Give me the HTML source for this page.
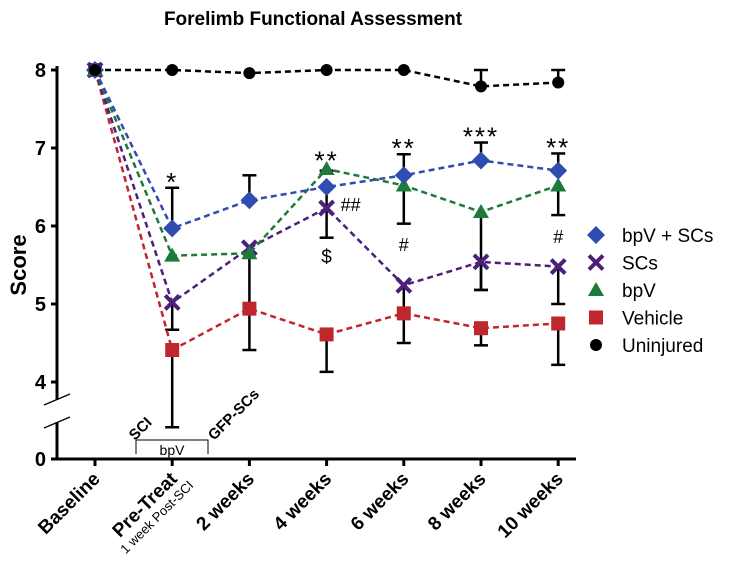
<!DOCTYPE html>
<html><head><meta charset="utf-8"><style>
body{margin:0;background:#fff;}
svg text{font-family:"Liberation Sans",Arial,sans-serif;}
</style></head><body>
<svg id="chart" width="729" height="564" viewBox="0 0 729 564">
<text x="313" y="25" text-anchor="middle" font-size="19" font-weight="bold">Forelimb Functional Assessment</text>
<text transform="translate(26,265) rotate(-90)" text-anchor="middle" font-size="22" font-weight="bold">Score</text>
<g id="axes"></g>
<g id="series"></g>
<g id="annot"></g>
<g id="legend"></g>
</svg>
<script>
const categories=["Baseline","Pre-Treat","2 weeks","4 weeks","6 weeks","8 weeks","10 weeks"];
const seriesNames=["bpV + SCs","SCs","bpV","Vehicle","Uninjured"];
const bpvSCs=[8,5.97,6.33,6.5,6.65,6.84,6.71];
const SCs=[8,5.02,5.72,6.23,5.24,5.54,5.48];
const bpV=[8,5.62,5.65,6.73,6.52,6.18,6.52];
const vehicle=[8,4.41,4.94,4.61,4.88,4.69,4.75];
const uninjured=[8,8,7.96,8,8,7.79,7.84];
const errSegTime=[1,1,1,2,2,3,3,3,4,4,4,5,5,5,5,6,6,6,6,5,6];
const errSegFrom=[5.97,5.02,4.41,6.33,5.65,6.73,6.5,4.61,6.65,6.52,5.24,6.84,6.18,5.54,4.69,6.71,6.52,5.48,4.75,7.79,7.84];
const errSegTo=[6.49,4.67,3.42,6.65,4.41,6.71,5.85,4.13,6.92,6.03,4.5,7.07,5.18,5.18,4.47,6.93,6.14,5.0,4.22,8.0,8.0];
const stars=["","*","","**","**","***","**"];
const starTop=[null,6.49,null,6.76,6.92,7.07,6.93];
const yTicks=[0,4,5,6,7,8];

const NS="http://www.w3.org/2000/svg";
const X=i=>95+i*77.2;
const Y=v=>v===0?459:70+(8-v)*78;
function el(tag,attrs,parent){const e=document.createElementNS(NS,tag);for(const k in attrs)e.setAttribute(k,attrs[k]);parent.appendChild(e);return e;}
const axes=document.getElementById('axes'),ser=document.getElementById('series'),ann=document.getElementById('annot'),leg=document.getElementById('legend');
let a=el('path',{d:"M57,66 V400 M57,422 V459 H576",stroke:"#000","stroke-width":3,fill:"none"},axes);


el('path',{d:"M44,405 L70,394 M44,428 L70,417",stroke:"#000","stroke-width":1.3},axes);
yTicks.forEach(t=>{
 const l=el('line',{x1:51,x2:57,y1:Y(t),y2:Y(t),stroke:"#000","stroke-width":3},axes);
 
 
 const tx=el('text',{x:46,y:Y(t)+7,"text-anchor":"end","font-size":20,"font-weight":"bold"},axes);
 tx.textContent=t;
 
 
});
categories.forEach((c,i)=>{
 const l=el('line',{x1:X(i),x2:X(i),y1:459,y2:466,stroke:"#000","stroke-width":3},axes);
 
 
 const tx=el('text',{transform:`translate(${X(i)+6},${480}) rotate(-45)`,"text-anchor":"end","font-size":19,"font-weight":"bold"},axes);
 tx.textContent=c;
 
 
});
let sub=el('text',{transform:`translate(${X(1)+22},${486}) rotate(-45)`,"text-anchor":"end","font-size":13},axes);
sub.textContent="1 week Post-SCI";


el('path',{d:"M136,454 V440 H208 V454",stroke:"#000","stroke-width":1,fill:"none"},axes);
let t1=el('text',{x:172,y:455,"text-anchor":"middle","font-size":14},axes);t1.textContent="bpV";


let t2=el('text',{transform:"translate(135,441) rotate(-45)","font-size":15,"font-weight":"bold"},axes);t2.textContent="SCI";


let t3=el('text',{transform:"translate(214,441) rotate(-45)","font-size":15,"font-weight":"bold"},axes);t3.textContent="GFP-SCs";



errSegTime.forEach((i,s)=>{
 const g=el('g',{},ser);
 
 
 el('line',{x1:X(i),x2:X(i),y1:Y(errSegFrom[s]),y2:Y(errSegTo[s]),stroke:"#000","stroke-width":2.5},g);
 el('line',{x1:X(i)-7,x2:X(i)+7,y1:Y(errSegTo[s]),y2:Y(errSegTo[s]),stroke:"#000","stroke-width":2.5},g);
});
const colors=["#2f4db0","#4b1f7a","#1d7a3a","#c0272d","#000"];
const data=[bpvSCs,SCs,bpV,vehicle,uninjured];
const names=["bpv-scs","scs","bpv","vehicle","uninjured"];
function marker(k,x,y,g){
 const c=colors[k];
 if(k===0)el('path',{d:`M${x},${y-9} L${x+9},${y} L${x},${y+9} L${x-9},${y}Z`,fill:c},g);
 else if(k===1)el('path',{d:`M${x-7},${y-7} L${x+7},${y+7} M${x+7},${y-7} L${x-7},${y+7}`,stroke:c,"stroke-width":4},g);
 else if(k===2)el('path',{d:`M${x},${y-8} L${x+8},${y+6} L${x-8},${y+6}Z`,fill:c},g);
 else if(k===3)el('rect',{x:x-7,y:y-7,width:14,height:14,fill:c},g);
 else el('circle',{cx:x,cy:y,r:6,fill:c},g);
}
[3,1,2,0,4].forEach(k=>{
 const d=data[k];
 const ln=el('polyline',{points:d.map((v,i)=>X(i)+","+Y(v)).join(" "),fill:"none",stroke:colors[k],"stroke-width":2.5,"stroke-dasharray":"6,4"},ser);
 
 
 d.forEach((v,i)=>{
  const g=el('g',{},ser);
  
  
  marker(k,X(i),Y(v),g);
 });
});
stars.forEach((s,i)=>{
 if(!s)return;
 const t=el('text',{x:X(i),y:Y(starTop[i])+3,"text-anchor":"middle","font-size":26,"letter-spacing":"2"},ann);
 t.textContent=s;
 
 
});
[["##",X(3)+14,211,"start",18],["$",X(3),263,"middle",19],["#",X(4),251,"middle",18],["#",X(6),243,"middle",18]].forEach(a=>{
 const t=el('text',{x:a[1],y:a[2],"text-anchor":a[3],"font-size":a[4]},ann);
 t.textContent=a[0];
 
 
});
seriesNames.forEach((n,k)=>{
 const g=el('g',{},leg);
 
 
 const y=235+k*27.5;
 marker(k,596,y,g);
 const t=el('text',{x:622,y:y+7,"font-size":19},g);
 t.textContent=n;
});
</script>
</body></html>
